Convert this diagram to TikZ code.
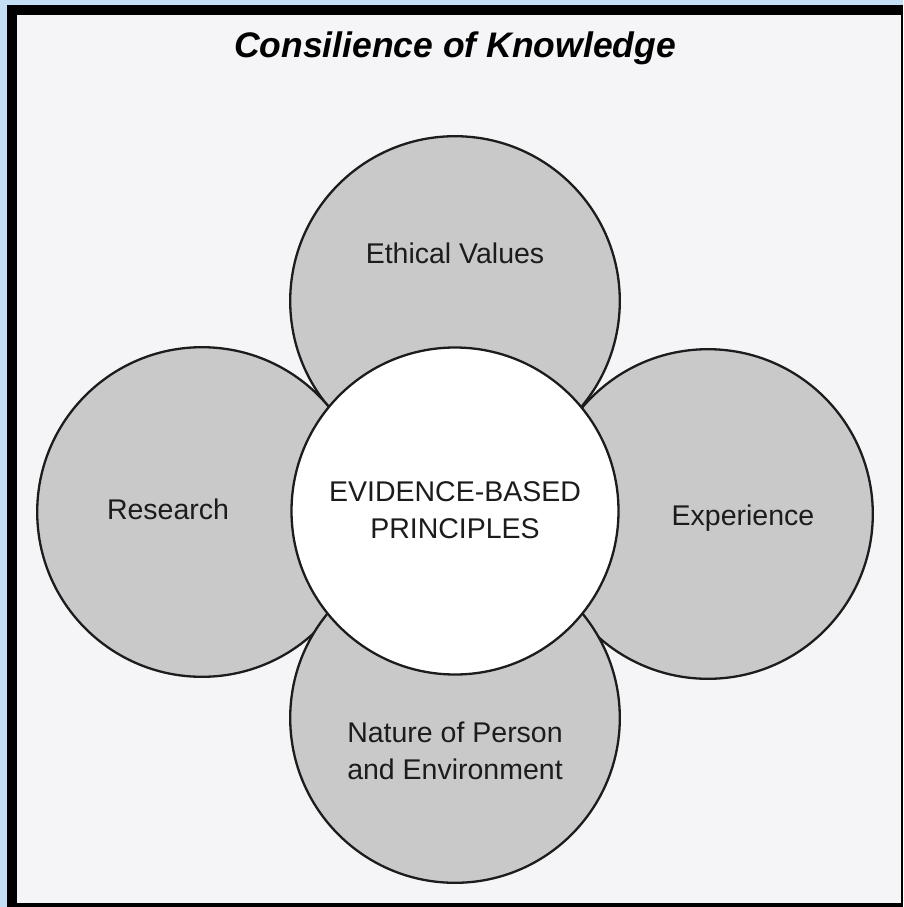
\documentclass[tikz,border=0pt]{standalone}
\usepackage{fontspec}
\setmainfont{Liberation Sans}
\definecolor{bluebg}{RGB}{196,222,246}
\definecolor{paper}{RGB}{245,245,248}
\definecolor{petal}{RGB}{201,201,201}
\definecolor{ink}{RGB}{28,28,28}
\begin{document}
\begin{tikzpicture}[x=1pt,y=-1pt,
  petalc/.style={circle,draw=ink,line width=2.3pt,fill=petal,minimum size=329.6pt,inner sep=0pt},
  corec/.style={circle,draw=ink,line width=2.3pt,fill=white,minimum size=327pt,inner sep=0pt},
  lbl/.style={text=ink,font=\fontsize{28.5}{36.5}\selectfont,anchor=base,align=center,inner sep=0pt},
  ttl/.style={text=black,font=\fontsize{35.5}{40}\selectfont\bfseries\itshape,anchor=base,inner sep=0pt}]
\useasboundingbox (0,0) rectangle (903,907);
\fill[bluebg] (0,0) rectangle (903,907);
\fill[black] (7,5) rectangle (903,907);
\fill[paper] (17,15) rectangle (901,903);
% petals
\node[petalc] (top) at (455,301) {};
\node[petalc] (left) at (202,512) {};
\node[petalc] (right) at (708,514) {};
\node[petalc] (bottom) at (455,718) {};
\node[corec] (core) at (455,511) {};
% labels
\node[ttl] (title) at (455,58) {Consilience of Knowledge};
\node[lbl] (ethtext) at (455,263) {Ethical Values};
\node[lbl] (restext) at (168,519) {Research};
\node[lbl] (exptext) at (743,525) {Experience};
\node[lbl] (coretext) at (455,538) {EVIDENCE-BASED\\PRINCIPLES};
\node[lbl] (battext) at (455,779) {Nature of Person\\and Environment};
\end{tikzpicture}
\end{document}
